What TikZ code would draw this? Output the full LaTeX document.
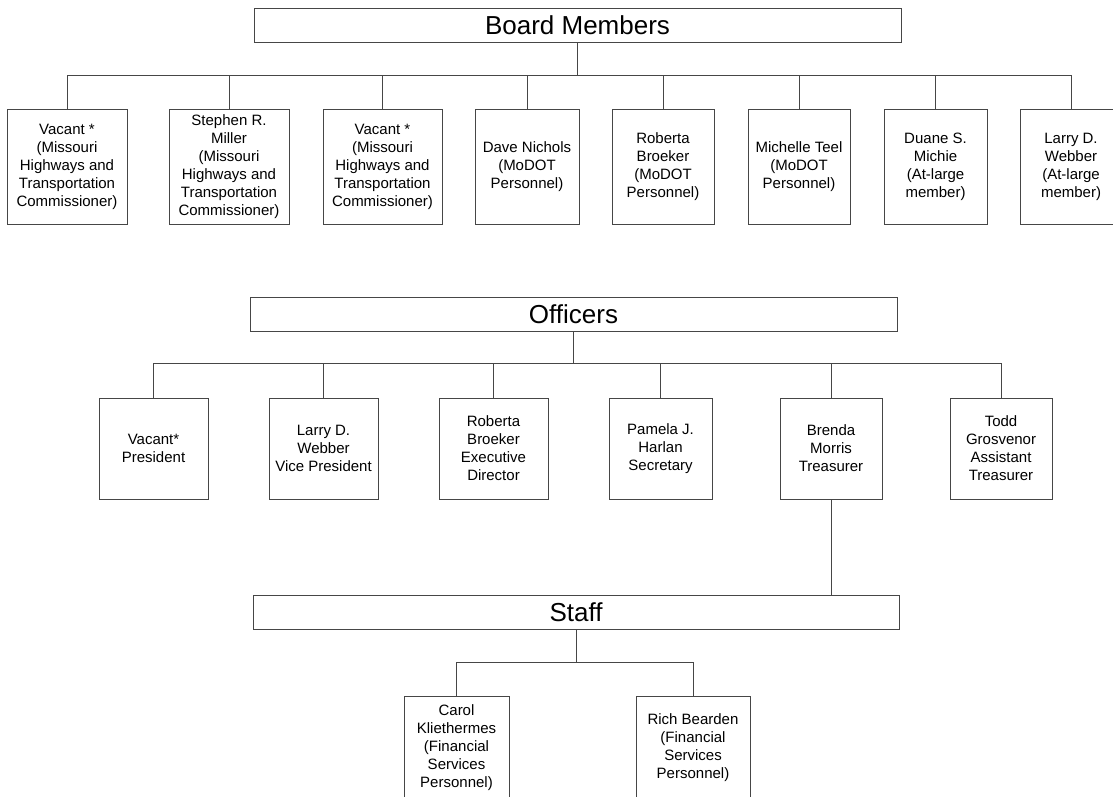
\documentclass[tikz,border=0pt]{standalone}
\usepackage{fontspec}
\setmainfont{Liberation Sans}
\usepackage{tikz}

\begin{document}
\begin{tikzpicture}[x=1pt,y=-1pt,line width=0.8pt,
    	 head node/.style={draw=linegray,rectangle,inner sep=0pt,minimum height=34pt,minimum width=647pt,font=\fontsize{26}{31}\selectfont},
    	 person node/.style={draw=linegray,rectangle,inner sep=0pt,align=center,font=\fontsize{15}{18}\selectfont},
    	 elbow/.style={to path={-| (\tikztotarget)}}]

	\definecolor{linegray}{RGB}{70,70,70}

	\useasboundingbox (0,0) rectangle (1113,796);

	% board members
  	\draw (577.5,25.5) node[head node] (board) {Board Members};
	\draw (67,166.5)    node[person node,minimum width=120pt,minimum height=115pt] (b1) {Vacant *\\(Missouri\\Highways and\\Transportation\\Commissioner)};
	\draw (229,166.5)   node[person node,minimum width=120pt,minimum height=115pt] (b2) {Stephen R.\\Miller\\(Missouri\\Highways and\\Transportation\\Commissioner)};
	\draw (382.5,166.5) node[person node,minimum width=119pt,minimum height=115pt] (b3) {Vacant *\\(Missouri\\Highways and\\Transportation\\Commissioner)};
	\draw (527,166.5)   node[person node,minimum width=104pt,minimum height=115pt] (b4) {Dave Nichols\\(MoDOT\\Personnel)};
	\draw (663,166.5)   node[person node,minimum width=102pt,minimum height=115pt] (b5) {Roberta\\Broeker\\(MoDOT\\Personnel)};
	\draw (799,166.5)   node[person node,minimum width=102pt,minimum height=115pt] (b6) {Michelle Teel\\(MoDOT\\Personnel)};
	\draw (935.5,166.5) node[person node,minimum width=103pt,minimum height=115pt] (b7) {Duane S.\\Michie\\(At-large\\member)};
	\draw (1071,166.5)  node[person node,minimum width=102pt,minimum height=115pt] (b8) {Larry D.\\Webber\\(At-large\\member)};
	\coordinate (bbus) at (577.5,75);

	% officers
  	\draw (573.5,314) node[head node] (officers) {Officers};
	\draw (153.5,448.5) node[person node,minimum width=109pt,minimum height=101pt] (o1) {Vacant*\\President};
	\draw (323.5,448.5) node[person node,minimum width=109pt,minimum height=101pt] (o2) {Larry D.\\Webber\\Vice President};
	\draw (493.5,448.5) node[person node,minimum width=109pt,minimum height=101pt] (o3) {Roberta\\Broeker\\Executive\\Director};
	\draw (660.5,448.5) node[person node,minimum width=103pt,minimum height=101pt] (o4) {Pamela J.\\Harlan\\Secretary};
	\draw (831,448.5)   node[person node,minimum width=102pt,minimum height=101pt] (o5) {Brenda\\Morris\\Treasurer};
	\draw (1001,448.5)  node[person node,minimum width=102pt,minimum height=101pt] (o6) {Todd\\Grosvenor\\Assistant\\Treasurer};
	\coordinate (obus) at (573.5,363);

	% staff
  	\draw (576,612) node[head node,minimum width=646pt] (staff) {Staff};
	\draw (456.5,748) node[person node,minimum width=105pt,minimum height=104pt] (s1) {Carol\\Kliethermes\\(Financial\\Services\\Personnel)};
	\draw (693,748)   node[person node,minimum width=114pt,minimum height=104pt] (s2) {Rich Bearden\\(Financial\\Services\\Personnel)};
	\coordinate (sbus) at (576,662);

  	\path[draw=linegray]
    (board) edge (bbus)
    (bbus) edge[elbow] (b1.north) edge[elbow] (b2.north) edge[elbow] (b3.north) edge[elbow] (b4.north)
           edge[elbow] (b5.north) edge[elbow] (b6.north) edge[elbow] (b7.north) edge[elbow] (b8.north)
    (officers) edge (obus)
    (obus) edge[elbow] (o1.north) edge[elbow] (o2.north) edge[elbow] (o3.north)
           edge[elbow] (o4.north) edge[elbow] (o5.north) edge[elbow] (o6.north)
    (o5.south) edge (o5.south |- staff.north)
    (staff) edge (sbus)
    (sbus) edge[elbow] (s1.north) edge[elbow] (s2.north);

	\end{tikzpicture}
\end{document}
